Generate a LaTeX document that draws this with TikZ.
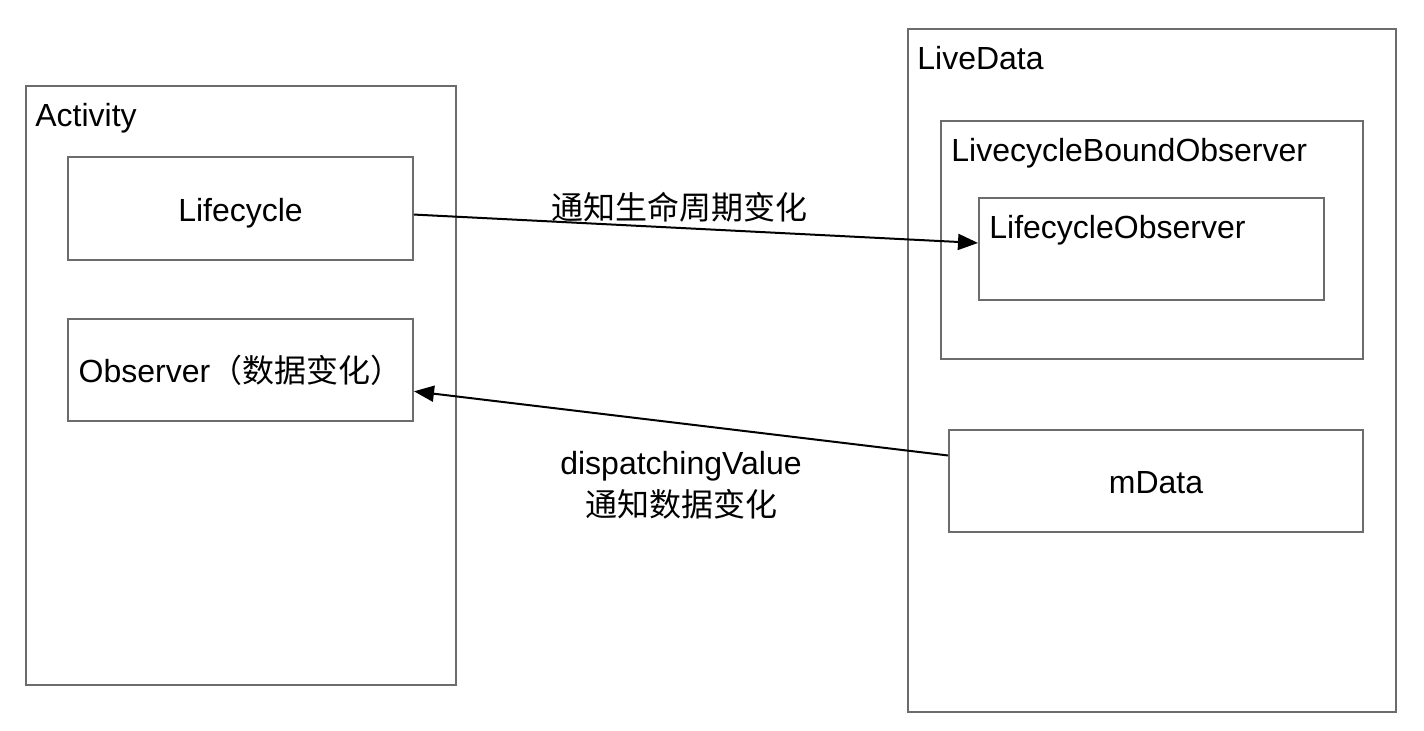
\documentclass[tikz,border=0pt]{standalone}
\usepackage{fontspec}
\setmainfont{Liberation Sans}
\newfontfamily\cjk{Noto Sans CJK SC}
\usetikzlibrary{arrows.meta,positioning}

\begin{document}
\begin{tikzpicture}[x=0.5pt,y=-0.5pt,
    font=\fontsize{16}{19}\selectfont,
    box/.style={draw=gray!85!black, line width=1pt, inner sep=0pt, text height=16pt, text depth=3.4pt},
    title/.style={anchor=north west, inner sep=0pt},
    flow/.style={-{Triangle[length=10pt,width=8pt]}, line width=1pt}]
    \useasboundingbox (0,0) rectangle (1424,730);

    % Activity side
    \node[box, minimum width=215pt, minimum height=299.5pt] (activity) at (241,385.5) {};
    \node[title] (activitytitle) at ([xshift=5pt,yshift=-9pt]activity.north west) {Activity};
    \node[box, minimum width=172.5pt, minimum height=51.5pt] (lifecycle) at (240.5,208.5) {Lifecycle};
    \node[box, minimum width=172.5pt, minimum height=51pt] (observer) at (240.5,370) {Observer{\cjk（数据变化）}};

    % LiveData side
    \node[box, minimum width=244pt, minimum height=341.5pt] (livedata) at (1152,370.5) {};
    \node[title] (livedatatitle) at ([xshift=5pt,yshift=-9pt]livedata.north west) {LiveData};
    \node[box, minimum width=211pt, minimum height=119pt] (bound) at (1152,240) {};
    \node[title] (boundtitle) at ([xshift=5.5pt,yshift=-9pt]bound.north west) {LivecycleBoundObserver};
    \node[box, minimum width=172.5pt, minimum height=51pt] (lcobserver) at (1151.5,249) {};
    \node[title] (lcobservertitle) at ([xshift=5.5pt,yshift=-9pt]lcobserver.north west) {LifecycleObserver};
    \node[box, minimum width=207pt, minimum height=51pt] (mdata) at (1156,481) {mData};

    \draw[flow] (lifecycle.-2) -- node[above=-1pt, pos=0.47] (notifylife) {\cjk 通知生命周期变化} (lcobserver.178);
    \draw[flow] (mdata.173) -- node[below=10pt, pos=0.5, align=center] (notifydata) {dispatchingValue\\[2pt]\cjk 通知数据变化} (observer.-7);
\end{tikzpicture}
\end{document}
